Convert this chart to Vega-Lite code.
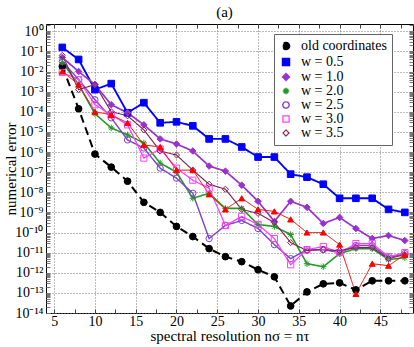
{
  "$schema": "https://vega.github.io/schema/vega-lite/v6.json",
  "width": 367,
  "height": 289,
  "autosize": {"type": "none"},
  "padding": {"left": 46, "top": 24, "right": 1, "bottom": 34},
  "background": "white",
  "title": {"text": "(a)", "font": "Liberation Serif", "fontSize": 15, "fontWeight": "normal", "offset": 4, "color": "black", "dx": -5},
  "config": {
    "view": {"stroke": "black", "strokeWidth": 1},
    "font": "Liberation Serif",
    "axis": {"labelFont": "Liberation Serif", "titleFont": "Liberation Serif", "labelColor": "black", "titleColor": "black", "titleFontWeight": "normal"}
  },
  "data": {"values": [
    {"s":"old coordinates","n":6,"e":1.78e-2},{"s":"old coordinates","n":8,"e":1.41e-4},{"s":"old coordinates","n":10,"e":7.9e-7},{"s":"old coordinates","n":12,"e":1.78e-7},{"s":"old coordinates","n":14,"e":3.55e-8},{"s":"old coordinates","n":16,"e":3.16e-9},{"s":"old coordinates","n":18,"e":1e-9},{"s":"old coordinates","n":20,"e":2e-10},{"s":"old coordinates","n":22,"e":6.3e-11},{"s":"old coordinates","n":24,"e":1.58e-11},{"s":"old coordinates","n":26,"e":6.3e-12},{"s":"old coordinates","n":28,"e":3.55e-12},{"s":"old coordinates","n":30,"e":1.41e-12},{"s":"old coordinates","n":32,"e":6.3e-13},{"s":"old coordinates","n":34,"e":2.24e-14},{"s":"old coordinates","n":36,"e":1.12e-13},{"s":"old coordinates","n":38,"e":2.82e-13},{"s":"old coordinates","n":40,"e":3.16e-13},{"s":"old coordinates","n":42,"e":1.41e-13},{"s":"old coordinates","n":44,"e":3.98e-13},{"s":"old coordinates","n":46,"e":3.98e-13},{"s":"old coordinates","n":48,"e":3.98e-13},
    {"s":"w = 0.5","n":6,"e":0.158},{"s":"w = 0.5","n":8,"e":3.98e-2},{"s":"w = 0.5","n":10,"e":1.26e-3},{"s":"w = 0.5","n":12,"e":2.51e-3},{"s":"w = 0.5","n":14,"e":8.9e-5},{"s":"w = 0.5","n":16,"e":2.82e-4},{"s":"w = 0.5","n":18,"e":2.82e-5},{"s":"w = 0.5","n":20,"e":3.16e-5},{"s":"w = 0.5","n":22,"e":2e-5},{"s":"w = 0.5","n":24,"e":4.47e-6},{"s":"w = 0.5","n":26,"e":4.47e-6},{"s":"w = 0.5","n":28,"e":1.78e-6},{"s":"w = 0.5","n":30,"e":5.62e-7},{"s":"w = 0.5","n":32,"e":5.62e-7},{"s":"w = 0.5","n":34,"e":7.94e-8},{"s":"w = 0.5","n":36,"e":5.62e-8},{"s":"w = 0.5","n":38,"e":2.51e-8},{"s":"w = 0.5","n":40,"e":5.01e-9},{"s":"w = 0.5","n":42,"e":5.01e-9},{"s":"w = 0.5","n":44,"e":5.01e-9},{"s":"w = 0.5","n":46,"e":1.41e-9},{"s":"w = 0.5","n":48,"e":1e-9},
    {"s":"w = 1.0","n":6,"e":5.01e-2},{"s":"w = 1.0","n":8,"e":1e-2},{"s":"w = 1.0","n":10,"e":2.24e-3},{"s":"w = 1.0","n":12,"e":2.24e-4},{"s":"w = 1.0","n":14,"e":8.9e-5},{"s":"w = 1.0","n":16,"e":2.24e-5},{"s":"w = 1.0","n":18,"e":4.47e-6},{"s":"w = 1.0","n":20,"e":2.51e-6},{"s":"w = 1.0","n":22,"e":1.12e-6},{"s":"w = 1.0","n":24,"e":2e-7},{"s":"w = 1.0","n":26,"e":1.12e-7},{"s":"w = 1.0","n":28,"e":2.24e-8},{"s":"w = 1.0","n":30,"e":3.55e-9},{"s":"w = 1.0","n":32,"e":3.55e-10},{"s":"w = 1.0","n":34,"e":3.55e-9},{"s":"w = 1.0","n":36,"e":1.78e-9},{"s":"w = 1.0","n":38,"e":2.82e-10},{"s":"w = 1.0","n":40,"e":5.62e-10},{"s":"w = 1.0","n":42,"e":1.58e-10},{"s":"w = 1.0","n":44,"e":5.01e-11},{"s":"w = 1.0","n":46,"e":7.08e-11},{"s":"w = 1.0","n":48,"e":3.98e-11},
    {"s":"w = 2.0","n":6,"e":2.82e-2},{"s":"w = 2.0","n":8,"e":2.24e-3},{"s":"w = 2.0","n":10,"e":7.94e-5},{"s":"w = 2.0","n":12,"e":1.58e-5},{"s":"w = 2.0","n":14,"e":7.08e-6},{"s":"w = 2.0","n":16,"e":2.82e-6},{"s":"w = 2.0","n":18,"e":2.82e-7},{"s":"w = 2.0","n":20,"e":1e-7},{"s":"w = 2.0","n":22,"e":5.01e-9},{"s":"w = 2.0","n":24,"e":8.91e-9},{"s":"w = 2.0","n":26,"e":1.58e-9},{"s":"w = 2.0","n":28,"e":1.58e-9},{"s":"w = 2.0","n":30,"e":2.51e-10},{"s":"w = 2.0","n":32,"e":2e-10},{"s":"w = 2.0","n":34,"e":7.94e-11},{"s":"w = 2.0","n":36,"e":2.82e-12},{"s":"w = 2.0","n":38,"e":2e-12},{"s":"w = 2.0","n":40,"e":8.91e-12},{"s":"w = 2.0","n":42,"e":1.58e-11},{"s":"w = 2.0","n":44,"e":1.58e-11},{"s":"w = 2.0","n":46,"e":4.47e-12},{"s":"w = 2.0","n":48,"e":5.62e-12},
    {"s":"w = 2.5","n":6,"e":3.16e-2},{"s":"w = 2.5","n":8,"e":3.98e-3},{"s":"w = 2.5","n":10,"e":3.98e-4},{"s":"w = 2.5","n":12,"e":5.01e-5},{"s":"w = 2.5","n":14,"e":3.98e-6},{"s":"w = 2.5","n":16,"e":1.58e-6},{"s":"w = 2.5","n":18,"e":1.58e-7},{"s":"w = 2.5","n":20,"e":5.01e-8},{"s":"w = 2.5","n":22,"e":8.91e-9},{"s":"w = 2.5","n":24,"e":5.01e-11},{"s":"w = 2.5","n":26,"e":2.24e-10},{"s":"w = 2.5","n":28,"e":3.98e-10},{"s":"w = 2.5","n":30,"e":1.58e-10},{"s":"w = 2.5","n":32,"e":2.51e-11},{"s":"w = 2.5","n":34,"e":5.01e-12},{"s":"w = 2.5","n":36,"e":1.41e-11},{"s":"w = 2.5","n":38,"e":1.41e-11},{"s":"w = 2.5","n":40,"e":1e-11},{"s":"w = 2.5","n":42,"e":2.24e-11},{"s":"w = 2.5","n":44,"e":2.24e-11},{"s":"w = 2.5","n":46,"e":5.62e-12},{"s":"w = 2.5","n":48,"e":8.91e-12},
    {"s":"w = 3.0","n":6,"e":8.91e-3},{"s":"w = 3.0","n":8,"e":3.98e-3},{"s":"w = 3.0","n":10,"e":2.24e-4},{"s":"w = 3.0","n":12,"e":7.08e-5},{"s":"w = 3.0","n":14,"e":2.24e-5},{"s":"w = 3.0","n":16,"e":5.01e-7},{"s":"w = 3.0","n":18,"e":1.41e-6},{"s":"w = 3.0","n":20,"e":1.58e-7},{"s":"w = 3.0","n":22,"e":3.98e-8},{"s":"w = 3.0","n":24,"e":1.58e-8},{"s":"w = 3.0","n":26,"e":2.24e-10},{"s":"w = 3.0","n":28,"e":6.31e-10},{"s":"w = 3.0","n":30,"e":2.51e-10},{"s":"w = 3.0","n":32,"e":5.01e-11},{"s":"w = 3.0","n":34,"e":2.51e-12},{"s":"w = 3.0","n":36,"e":1.41e-11},{"s":"w = 3.0","n":38,"e":2e-11},{"s":"w = 3.0","n":40,"e":1e-11},{"s":"w = 3.0","n":42,"e":2.82e-11},{"s":"w = 3.0","n":44,"e":2.82e-11},{"s":"w = 3.0","n":46,"e":6.31e-12},{"s":"w = 3.0","n":48,"e":1e-11},
    {"s":"w = 3.5","n":6,"e":6.31e-2},{"s":"w = 3.5","n":8,"e":1.26e-3},{"s":"w = 3.5","n":10,"e":2.24e-3},{"s":"w = 3.5","n":12,"e":1e-4},{"s":"w = 3.5","n":14,"e":6.31e-5},{"s":"w = 3.5","n":16,"e":1.26e-5},{"s":"w = 3.5","n":18,"e":1.12e-6},{"s":"w = 3.5","n":20,"e":7.08e-7},{"s":"w = 3.5","n":22,"e":1.26e-7},{"s":"w = 3.5","n":24,"e":2.51e-8},{"s":"w = 3.5","n":26,"e":1.41e-8},{"s":"w = 3.5","n":28,"e":1.41e-9},{"s":"w = 3.5","n":30,"e":8.91e-10},{"s":"w = 3.5","n":32,"e":3.16e-10},{"s":"w = 3.5","n":34,"e":3.16e-11},{"s":"w = 3.5","n":36,"e":1.26e-11},{"s":"w = 3.5","n":38,"e":1.41e-11},{"s":"w = 3.5","n":40,"e":1.26e-11},{"s":"w = 3.5","n":42,"e":1.78e-11},{"s":"w = 3.5","n":44,"e":1.78e-11},{"s":"w = 3.5","n":46,"e":5.01e-12},{"s":"w = 3.5","n":48,"e":7.94e-12},
    {"s":"other","n":6,"e":1e-2},{"s":"other","n":8,"e":2.24e-3},{"s":"other","n":10,"e":1e-4},{"s":"other","n":12,"e":7.08e-5},{"s":"other","n":14,"e":2.82e-5},{"s":"other","n":16,"e":2.24e-6},{"s":"other","n":18,"e":1.78e-6},{"s":"other","n":20,"e":1.26e-7},{"s":"other","n":22,"e":1.26e-7},{"s":"other","n":24,"e":7.94e-9},{"s":"other","n":26,"e":1.41e-9},{"s":"other","n":28,"e":5.01e-9},{"s":"other","n":30,"e":1.41e-9},{"s":"other","n":32,"e":1.12e-9},{"s":"other","n":34,"e":4.47e-10},{"s":"other","n":36,"e":1e-10},{"s":"other","n":38,"e":1e-10},{"s":"other","n":40,"e":2.51e-11},{"s":"other","n":42,"e":8.91e-14},{"s":"other","n":44,"e":2.82e-12},{"s":"other","n":46,"e":2.24e-12},{"s":"other","n":48,"e":7.94e-12}
  ]},
  "resolve": {"axis": {"x": "independent", "y": "independent"}},
  "layer": [
    {
      "mark": {"type": "line", "clip": true},
      "encoding": {
        "x": {"field": "n", "type": "quantitative", "scale": {"domain": [4, 49], "nice": false, "zero": false},
          "axis": {"orient": "bottom", "offset": 0, "values": [5, 10, 15, 20, 25, 30, 35, 40, 45], "ticks": false, "domain": false, "grid": true, "gridColor": "#777", "gridDash": [1, 2], "gridWidth": 1, "labelFontSize": 14, "labelPadding": 1, "title": "spectral resolution nσ = nτ", "titleFontSize": 15, "titlePadding": 0}},
        "y": {"field": "e", "type": "quantitative", "scale": {"type": "log", "domain": [1e-14, 2.3], "nice": false},
          "axis": {"orient": "left", "offset": 0, "values": [1e-14, 1e-13, 1e-12, 1e-11, 1e-10, 1e-9, 1e-8, 1e-7, 1e-6, 1e-5, 1e-4, 1e-3, 1e-2, 1e-1, 1],
            "labelExpr": "['10⁰','10⁻¹','10⁻²','10⁻³','10⁻⁴','10⁻⁵','10⁻⁶','10⁻⁷','10⁻⁸','10⁻⁹','10⁻¹⁰','10⁻¹¹','10⁻¹²','10⁻¹³','10⁻¹⁴'][round(-log(datum.value)/LN10)]",
            "ticks": false, "domain": false, "grid": true, "gridColor": "#777", "gridDash": [1, 2], "gridWidth": 1, "labelFontSize": 14, "labelPadding": 3, "title": "numerical error", "titleFontSize": 15, "titleX": -36, "titleBaseline": "middle"}},
        "color": {"field": "s", "type": "nominal",
          "scale": {"domain": ["old coordinates", "w = 0.5", "w = 1.0", "w = 2.0", "w = 2.5", "w = 3.0", "w = 3.5", "other"],
            "range": ["#000000", "#0000ff", "#9932cc", "#229922", "#8040d0", "#ff40ff", "#802050", "#ff0000"]},
          "legend": {
            "values": ["old coordinates", "w = 0.5", "w = 1.0", "w = 2.0", "w = 2.5", "w = 3.0", "w = 3.5"],
            "title": null, "orient": "none", "legendX": 228, "legendY": 10, "padding": 5,
            "fillColor": "white", "strokeColor": "#666", "cornerRadius": 0,
            "labelFont": "Liberation Serif", "labelFontSize": 14, "labelColor": "black", "labelOffset": 8, "rowPadding": 0, "labelLimit": 200,
            "symbolStrokeWidth": 1
          }},
        "strokeDash": {"field": "s", "type": "nominal", "legend": null,
          "scale": {"domain": ["old coordinates", "w = 0.5", "w = 1.0", "w = 2.0", "w = 2.5", "w = 3.0", "w = 3.5", "other"],
            "range": [[8, 5], [1, 0], [1, 0], [1, 0], [1, 0], [1, 0], [1, 0], [1, 0]]}},
        "strokeWidth": {"field": "s", "type": "nominal", "legend": null,
          "scale": {"domain": ["old coordinates", "w = 0.5", "w = 1.0", "w = 2.0", "w = 2.5", "w = 3.0", "w = 3.5", "other"],
            "range": [2, 1, 1, 1, 1, 1, 1, 1]}}
      }
    },
    {
      "mark": {"type": "point", "clip": true, "strokeWidth": 1, "opacity": 1},
      "encoding": {
        "x": {"field": "n", "type": "quantitative", "scale": {"domain": [4, 49], "nice": false, "zero": false},
          "axis": {"orient": "top", "offset": 0, "values": [5, 7.5, 10, 12.5, 15, 17.5, 20, 22.5, 25, 27.5, 30, 32.5, 35, 37.5, 40, 42.5, 45, 47.5], "tickSize": -4, "tickColor": "#444", "labels": false, "domain": false, "grid": false, "title": null}},
        "y": {"field": "e", "type": "quantitative", "scale": {"type": "log", "domain": [1e-14, 2.3], "nice": false},
          "axis": {"orient": "right", "offset": 0, "values": [1e-14,2e-14,3e-14,4e-14,5e-14,6e-14,7e-14,8e-14,9e-14,1e-13,2e-13,3e-13,4e-13,5e-13,6e-13,7e-13,8e-13,9e-13,1e-12,2e-12,3e-12,4e-12,5e-12,6e-12,7e-12,8e-12,9e-12,1e-11,2e-11,3e-11,4e-11,5e-11,6e-11,7e-11,8e-11,9e-11,1e-10,2e-10,3e-10,4e-10,5e-10,6e-10,7e-10,8e-10,9e-10,1e-9,2e-9,3e-9,4e-9,5e-9,6e-9,7e-9,8e-9,9e-9,1e-8,2e-8,3e-8,4e-8,5e-8,6e-8,7e-8,8e-8,9e-8,1e-7,2e-7,3e-7,4e-7,5e-7,6e-7,7e-7,8e-7,9e-7,1e-6,2e-6,3e-6,4e-6,5e-6,6e-6,7e-6,8e-6,9e-6,1e-5,2e-5,3e-5,4e-5,5e-5,6e-5,7e-5,8e-5,9e-5,1e-4,2e-4,3e-4,4e-4,5e-4,6e-4,7e-4,8e-4,9e-4,1e-3,2e-3,3e-3,4e-3,5e-3,6e-3,7e-3,8e-3,9e-3,1e-2,2e-2,3e-2,4e-2,5e-2,6e-2,7e-2,8e-2,9e-2,0.1,0.2,0.3,0.4,0.5,0.6,0.7,0.8,0.9,1,2],
            "tickSize": -4, "tickColor": "#777", "labels": false, "domain": false, "grid": false, "title": null}},
        "shape": {"field": "s", "type": "nominal", "legend": null,
          "scale": {"domain": ["old coordinates", "w = 0.5", "w = 1.0", "w = 2.0", "w = 2.5", "w = 3.0", "w = 3.5", "other"],
            "range": ["circle", "square", "diamond", "M-1,0L1,0M0,-1L0,1M-0.7,-0.7L0.7,0.7M-0.7,0.7L0.7,-0.7", "circle", "square", "diamond", "triangle-up"]}},
        "fill": {"field": "s", "type": "nominal", "legend": null,
          "scale": {"domain": ["old coordinates", "w = 0.5", "w = 1.0", "w = 2.0", "w = 2.5", "w = 3.0", "w = 3.5", "other"],
            "range": ["#000000", "#0000ff", "#9932cc", "#229922", "transparent", "transparent", "transparent", "#ff0000"]}},
        "stroke": {"field": "s", "type": "nominal", "legend": null,
          "scale": {"domain": ["old coordinates", "w = 0.5", "w = 1.0", "w = 2.0", "w = 2.5", "w = 3.0", "w = 3.5", "other"],
            "range": ["#000000", "#0000ff", "#9932cc", "#229922", "#8040d0", "#ff40ff", "#802050", "#ff0000"]}},
        "size": {"field": "s", "type": "nominal", "legend": null,
          "scale": {"domain": ["old coordinates", "w = 0.5", "w = 1.0", "w = 2.0", "w = 2.5", "w = 3.0", "w = 3.5", "other"],
            "range": [45, 36, 40, 40, 32, 32, 40, 36]}}
      }
    },
    {
      "mark": {"type": "point", "opacity": 0},
      "encoding": {
        "x": {"field": "n", "type": "quantitative", "scale": {"domain": [4, 49], "nice": false, "zero": false},
          "axis": {"orient": "bottom", "offset": 0, "values": [5, 7.5, 10, 12.5, 15, 17.5, 20, 22.5, 25, 27.5, 30, 32.5, 35, 37.5, 40, 42.5, 45, 47.5], "tickSize": -4, "tickColor": "#444", "labels": false, "domain": false, "grid": false, "title": null}},
        "y": {"field": "e", "type": "quantitative", "scale": {"type": "log", "domain": [1e-14, 2.3], "nice": false},
          "axis": {"orient": "left", "offset": 0, "values": [1e-14,2e-14,3e-14,4e-14,5e-14,6e-14,7e-14,8e-14,9e-14,1e-13,2e-13,3e-13,4e-13,5e-13,6e-13,7e-13,8e-13,9e-13,1e-12,2e-12,3e-12,4e-12,5e-12,6e-12,7e-12,8e-12,9e-12,1e-11,2e-11,3e-11,4e-11,5e-11,6e-11,7e-11,8e-11,9e-11,1e-10,2e-10,3e-10,4e-10,5e-10,6e-10,7e-10,8e-10,9e-10,1e-9,2e-9,3e-9,4e-9,5e-9,6e-9,7e-9,8e-9,9e-9,1e-8,2e-8,3e-8,4e-8,5e-8,6e-8,7e-8,8e-8,9e-8,1e-7,2e-7,3e-7,4e-7,5e-7,6e-7,7e-7,8e-7,9e-7,1e-6,2e-6,3e-6,4e-6,5e-6,6e-6,7e-6,8e-6,9e-6,1e-5,2e-5,3e-5,4e-5,5e-5,6e-5,7e-5,8e-5,9e-5,1e-4,2e-4,3e-4,4e-4,5e-4,6e-4,7e-4,8e-4,9e-4,1e-3,2e-3,3e-3,4e-3,5e-3,6e-3,7e-3,8e-3,9e-3,1e-2,2e-2,3e-2,4e-2,5e-2,6e-2,7e-2,8e-2,9e-2,0.1,0.2,0.3,0.4,0.5,0.6,0.7,0.8,0.9,1,2],
            "tickSize": -4, "tickColor": "#777", "labels": false, "domain": false, "grid": false, "title": null}}
      }
    }
  ]
}
